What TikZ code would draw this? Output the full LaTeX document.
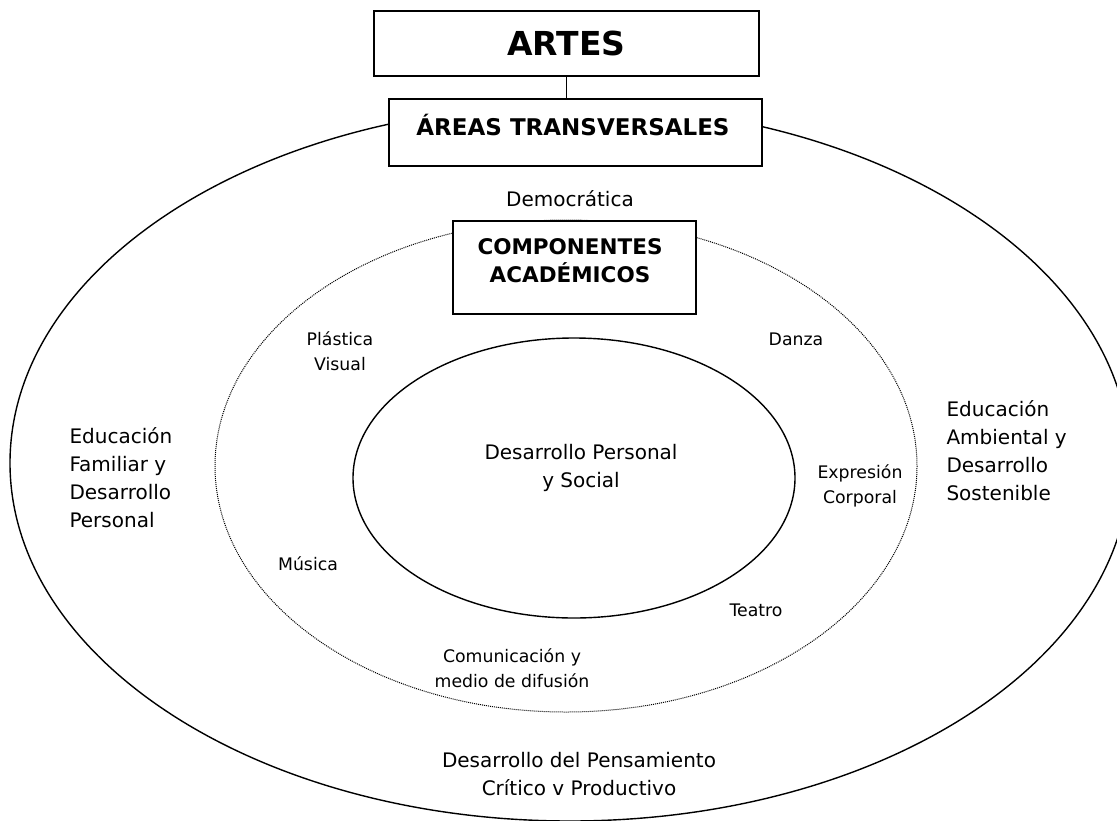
\documentclass[tikz,border=0pt]{standalone}
\usepackage{fontspec}
\setmainfont{DejaVu Sans}
\begin{document}
\begin{tikzpicture}[x=1pt, y=-1pt,
  titlebox/.style={draw, line width=1.8pt, fill=white, inner sep=0pt},
  ring/.style={line width=1.4pt},
  bigtext/.style={font=\fontsize{20}{28}\selectfont, align=center, anchor=base},
  smalltext/.style={font=\fontsize{17.3}{25}\selectfont, align=center, anchor=base},
  headtext/.style={font=\bfseries\fontsize{21.5}{28}\selectfont, align=center, anchor=base}]
\useasboundingbox (0,0) rectangle (1117,820);
\clip (0,0) rectangle (1117,820);

\draw[ring] (570,463) ellipse [x radius=560, y radius=358];
\draw[densely dotted, line width=1pt] (566,466) ellipse [x radius=351, y radius=246];
\draw[ring] (574,478) ellipse [x radius=221, y radius=140];

\node[titlebox, minimum width=385pt, minimum height=65pt, font=\bfseries\fontsize{33}{36}\selectfont] (artes) at (566.5,43.5) {ARTES};
\node[titlebox, minimum width=373pt, minimum height=67pt] (areas) at (575.5,132.5) {};
\node[headtext, font=\bfseries\fontsize{23}{28}\selectfont] (areastxt) at (573,135) {ÁREAS TRANSVERSALES};
\draw[line width=1.5pt] (artes.south) -- (artes.south |- areas.north);
\node[titlebox, minimum width=243pt, minimum height=93pt] (comp) at (574.5,267.5) {};
% base anchor sits on the last line
\node[headtext] (comptxt) at (570,282) {COMPONENTES\\ACADÉMICOS};

\node[bigtext] (democ) at (570,206) {Democrática};
\node[bigtext, anchor=base west, align=left] (familiar) at (66,527) {Educación\\Familiar y\\Desarrollo\\Personal};
\node[bigtext, anchor=base west, align=left] (ambiental) at (943,500) {Educación\\Ambiental y\\Desarrollo\\Sostenible};
\node[bigtext] (personal) at (581,487) {Desarrollo Personal\\y Social};
\node[bigtext] (pensam) at (579,795) {Desarrollo del Pensamiento\\Crítico v Productivo};

\node[smalltext] (plastica) at (340,370) {Plástica\\Visual};
\node[smalltext] (danza) at (796,345) {Danza};
\node[smalltext] (expresion) at (860,503) {Expresión\\Corporal};
\node[smalltext] (musica) at (308,570) {Música};
\node[smalltext] (teatro) at (756,616) {Teatro};
\node[smalltext] (comunic) at (512,687) {Comunicación y\\medio de difusión};
\end{tikzpicture}
\end{document}
